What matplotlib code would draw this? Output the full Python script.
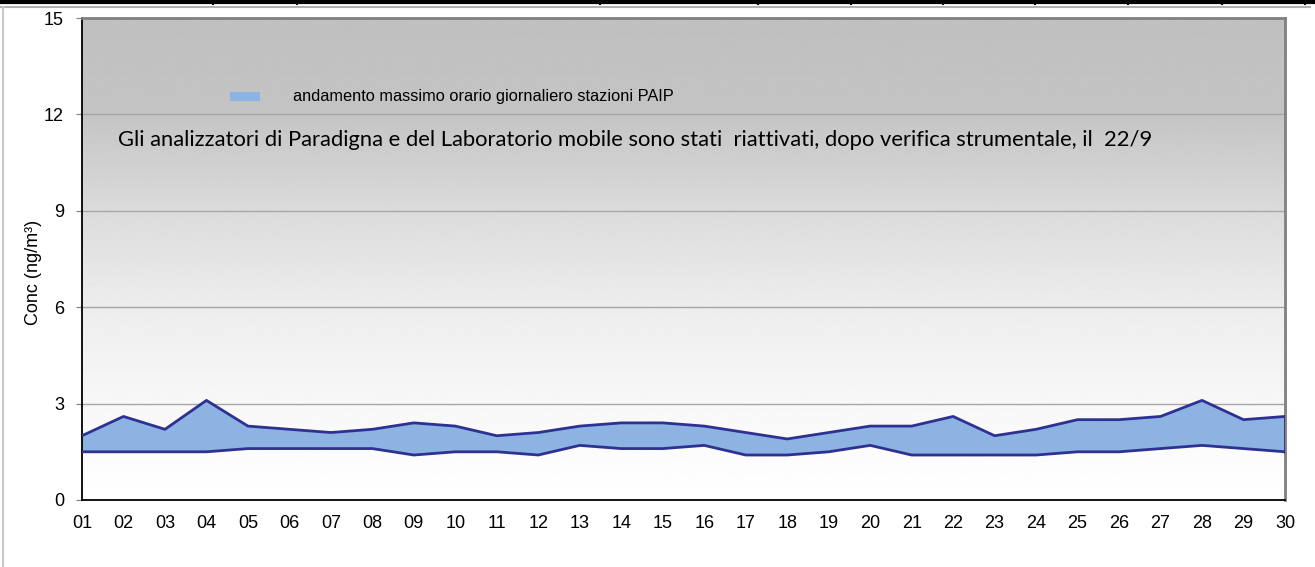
import numpy as np
import matplotlib
matplotlib.use("Agg")
import matplotlib.pyplot as plt
from matplotlib.patches import Rectangle
from matplotlib.lines import Line2D

# ── Dati ──────────────────────────────────────────────────────────────────────
giorni = ["01", "02", "03", "04", "05", "06", "07", "08", "09", "10",
          "11", "12", "13", "14", "15", "16", "17", "18", "19", "20",
          "21", "22", "23", "24", "25", "26", "27", "28", "29", "30"]
massimo = [2.0, 2.6, 2.2, 3.1, 2.3, 2.2, 2.1, 2.2, 2.4, 2.3,
           2.0, 2.1, 2.3, 2.4, 2.4, 2.3, 2.1, 1.9, 2.1, 2.3,
           2.3, 2.6, 2.0, 2.2, 2.5, 2.5, 2.6, 3.1, 2.5, 2.6]
minimo = [1.5, 1.5, 1.5, 1.5, 1.6, 1.6, 1.6, 1.6, 1.4, 1.5,
          1.5, 1.4, 1.7, 1.6, 1.6, 1.7, 1.4, 1.4, 1.5, 1.7,
          1.4, 1.4, 1.4, 1.4, 1.5, 1.5, 1.6, 1.7, 1.6, 1.5]
y_ticks = [0, 3, 6, 9, 12, 15]

LEGENDA = "andamento massimo orario giornaliero stazioni PAIP"
NOTA = ("Gli analizzatori di Paradigna e del Laboratorio mobile sono stati  "
        "riattivati, dopo verifica strumentale, il  22/9")

COL_FILL = "#8db3e2"
COL_EDGE = "#2e3192"

plt.rcParams["font.family"] = ["Liberation Sans", "DejaVu Sans"]

W, H = 1315, 567
fig = plt.figure(figsize=(W / 100, H / 100), dpi=100)
ax = fig.add_axes([82 / W, (H - 500) / H, (1285 - 82) / W, (500 - 18) / H])

x = np.arange(1, len(giorni) + 1)

# sfondo sfumato grigio (alto) -> bianco (basso)
t = np.linspace(0, 1, 400)
grad = np.interp(t, [0, 0.2, 0.4, 0.6, 0.8, 1.0],
                 [0.75, 0.77, 0.86, 0.93, 0.97, 1.0]).reshape(-1, 1)
ax.imshow(grad, cmap="gray", vmin=0, vmax=1, aspect="auto", origin="upper",
          extent=[0, 1, 0, 1], transform=ax.transAxes, zorder=0,
          interpolation="bilinear")

for v in y_ticks[1:-1]:
    ax.axhline(v, color="#a6a6a6", linewidth=1.0, zorder=1)

ax.fill_between(x, minimo, massimo, facecolor=COL_FILL, edgecolor="none", zorder=2)
ax.plot(x, massimo, color=COL_EDGE, linewidth=2, zorder=3)
ax.plot(x, minimo, color=COL_EDGE, linewidth=2, zorder=3)
ax.plot([x[-1], x[-1]], [minimo[-1], massimo[-1]], color=COL_EDGE, linewidth=2, zorder=3)

ax.set_xlim(1, len(giorni))
ax.set_ylim(0, 15)
ax.set_yticks(y_ticks)
ax.set_xticks(x)
ax.set_xticklabels(giorni)
ax.tick_params(axis="x", length=0, pad=11, labelsize=13)
ax.tick_params(axis="y", length=4, width=0.8, color="#808080", pad=9, labelsize=13)

for s in ("left", "bottom"):
    ax.spines[s].set_color("black")
    ax.spines[s].set_linewidth(1.3)
for s in ("top", "right"):
    ax.spines[s].set_color("#808080")
    ax.spines[s].set_linewidth(2)

fig.text(33 / W, 1 - 272 / H, "Conc (ng/m³)", fontsize=13, rotation=90,
         ha="center", va="center")

# legenda
fig.patches.append(Rectangle((230 / W, 1 - 101 / H), 30 / W, 9 / H,
                             transform=fig.transFigure, facecolor=COL_FILL,
                             edgecolor="none", zorder=5))
fig.text(293 / W, 1 - 96 / H, LEGENDA, fontsize=11.8, va="center", ha="left")

# nota: dimensione adattata alla larghezza (118 -> 1157 px)
nota = fig.text(118 / W, 1 - 140 / H, NOTA, fontsize=14, va="center", ha="left",
                family=["Lato", "DejaVu Sans"])
r = fig.canvas.get_renderer()
larg = nota.get_window_extent(r).width
nota.set_fontsize(14 * (1157 - 118) / larg)

# cornici in alto e a sinistra
fig.add_artist(Line2D([0, 1], [1 - 1.5 / H, 1 - 1.5 / H], transform=fig.transFigure,
                      color="black", linewidth=3))
for xv in [213, 297, 600, 758, 851, 943, 1035, 1128, 1222, 1305]:
    fig.add_artist(Line2D([xv / W, xv / W], [1 - 4 / H, 1], transform=fig.transFigure,
                          color="black", linewidth=1.5))
fig.add_artist(Line2D([0, 1310 / W], [1 - 6.5 / H, 1 - 6.5 / H], transform=fig.transFigure,
                      color="#b0b0b0", linewidth=1.5))
fig.add_artist(Line2D([2.5 / W, 2.5 / W], [0, 1 - 6.5 / H], transform=fig.transFigure,
                      color="#c8c8c8", linewidth=1.5))

fig.savefig("out.png", dpi=100)
